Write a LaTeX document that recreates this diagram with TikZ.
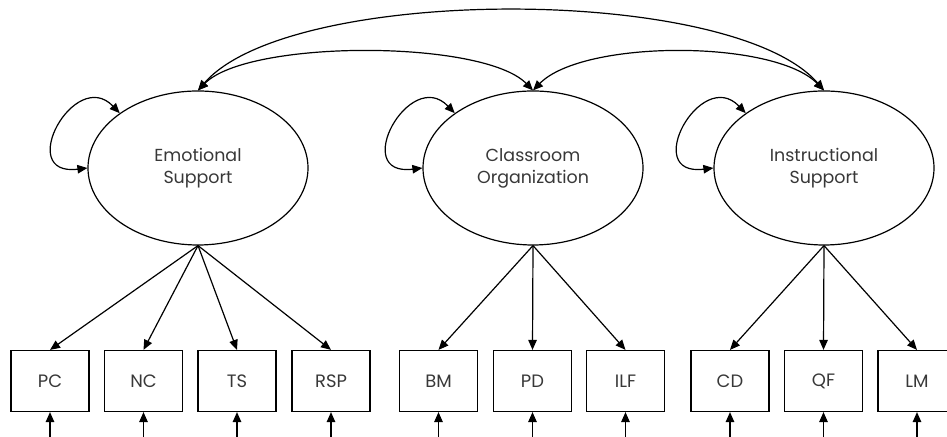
\documentclass[tikz,border=0pt]{standalone}
\usepackage{fontspec}
\setmainfont{Poppins}
\usepackage{tikz}
\usetikzlibrary{arrows.meta,shapes.geometric}

\tikzset{
	latent/.style={draw, ellipse, line width=1.2bp, minimum width=220bp, minimum height=154bp, inner sep=0pt, align=center, text=black!78, font=\fontsize{17.5}{22}\selectfont},
	indicator/.style={draw, rectangle, line width=1.2bp, minimum width=78bp, minimum height=61bp, inner sep=0pt, text=black!78, font=\fontsize{18}{22}\selectfont},
	path/.style={line width=1.2bp, -{Triangle[length=10bp,width=8.5bp]}},
	covar/.style={line width=1.2bp, {Triangle[length=10bp,width=8.5bp]}-{Triangle[length=10bp,width=8.5bp]}}
}

\begin{document}
\begin{tikzpicture}[x=1bp, y=1bp]
			%%%%% START %%%%%
			\useasboundingbox (0, 0) rectangle (947, 437);
			
			% factors
			\node[latent] (ES) at (198, 269) {Emotional\\Support};
			\node[latent] (CO) at (533, 269) {Classroom\\Organization};
			\node[latent] (IS) at (824, 269) {Instructional\\Support};
			
			% indicators
			\node[indicator] (PC) at (50, 56) {PC};
			\node[indicator] (NC) at (143.5, 56) {NC};
			\node[indicator] (TS) at (237, 56) {TS};
			\node[indicator] (RSP) at (331, 56) {RSP};
			\node[indicator] (BM) at (438.5, 56) {BM};
			\node[indicator] (PD) at (532.5, 56) {PD};
			\node[indicator] (ILF) at (625.5, 56) {ILF};
			\node[indicator] (CD) at (730, 56) {CD};
			\node[indicator] (QF) at (823.5, 56) {QF};
			\node[indicator] (LM) at (917, 56) {LM};
			
			% error terms
			\coordinate (ePC) at (50, 0);
			\coordinate (eNC) at (143.5, 0);
			\coordinate (eTS) at (237, 0);
			\coordinate (eRSP) at (331, 0);
			\coordinate (eBM) at (438.5, 0);
			\coordinate (ePD) at (532.5, 0);
			\coordinate (eILF) at (625.5, 0);
			\coordinate (eCD) at (730, 0);
			\coordinate (eQF) at (823.5, 0);
			\coordinate (eLM) at (917, 0);
			
			% loadings
			\draw[path] (ES.south) -- (PC.north);
			\draw[path] (ES.south) -- (NC.north);
			\draw[path] (ES.south) -- (TS.north);
			\draw[path] (ES.south) -- (RSP.north);
			\draw[path] (CO.south) -- (BM.north);
			\draw[path] (CO.south) -- (PD.north);
			\draw[path] (CO.south) -- (ILF.north);
			\draw[path] (IS.south) -- (CD.north);
			\draw[path] (IS.south) -- (QF.north);
			\draw[path] (IS.south) -- (LM.north);
			
			\draw[path] (ePC) -- (PC.south);
			\draw[path] (eNC) -- (NC.south);
			\draw[path] (eTS) -- (TS.south);
			\draw[path] (eRSP) -- (RSP.south);
			\draw[path] (eBM) -- (BM.south);
			\draw[path] (ePD) -- (PD.south);
			\draw[path] (eILF) -- (ILF.south);
			\draw[path] (eCD) -- (CD.south);
			\draw[path] (eQF) -- (QF.south);
			\draw[path] (eLM) -- (LM.south);
			
			% variances
			\draw[covar] (ES.145) .. controls +(-45, 47) and +(-73, -9) .. (ES.180);
			\draw[covar] (CO.145) .. controls +(-45, 47) and +(-73, -9) .. (CO.180);
			\draw[covar] (IS.145) .. controls +(-45, 47) and +(-73, -9) .. (IS.180);
			
			% covariances
			\draw[covar] (ES.north) .. controls +(50, 51) and +(-50, 51) .. (CO.north);
			\draw[covar] (CO.north) .. controls +(50, 51) and +(-50, 51) .. (IS.north);
			\draw[covar] (ES.north) .. controls +(92, 106) and +(-92, 106) .. (IS.north);
			
			%%%%% END %%%%%
		\end{tikzpicture}
\end{document}
